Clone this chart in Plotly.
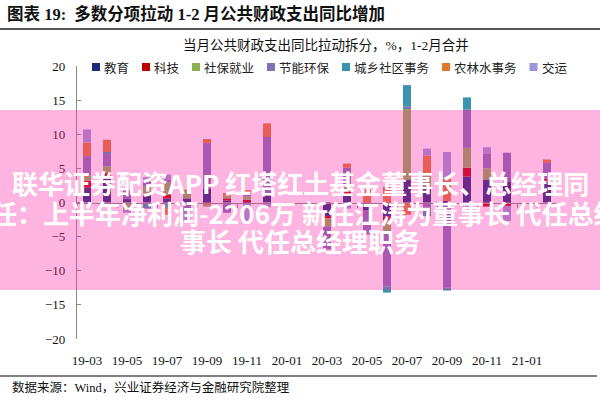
import plotly.graph_objects as go

months = ["19-03", "19-04", "19-05", "19-06", "19-07", "19-08", "19-09", "19-10",
          "19-11", "19-12", "20-01", "20-02", "20-03", "20-04", "20-05", "20-06",
          "20-07", "20-08", "20-09", "20-10", "20-11", "20-12", "21-01", "21-02"]
tick_labels = months[::2]
N = None

edu = [2.2, 3.8, 0.5, 1.0, 0.6, 0.6, 2.0, 0.3, 0.2, 1.0, N, N, -2.1, 1.2, -1.1, -2.0, 3.3, 2.1, 0.2, 3.8, 3.3, 3.0, N, 3.2]
tech = [1.0, 0.6, 0.0, 0.2, 0.5, 0.0, -0.3, 0.3, 0.2, 0.2, N, N, -0.2, 0.4, 0.0, -0.6, 0.0, 0.3, 0.0, 1.3, -0.6, -0.5, N, 0.3]
social = [0.8, 0.9, -1.1, 1.2, 1.8, 1.3, -0.3, 0.4, 0.5, 0.0, N, N, -1.2, 1.0, 0.0, -1.6, 10.4, 1.8, 0.0, 2.9, 1.7, 0.0, N, 0.0]
energy = [2.8, 1.8, 1.3, 0.9, 0.5, -1.2, 6.7, -1.5, 0.5, 8.4, N, N, -3.4, 2.5, -3.6, -8.1, 0.4, -1.2, -12.5, 5.6, 2.2, 4.3, N, 2.3]
urban = [0.0, 0.3, 0.0, -0.9, -0.8, 0.0, 0.0, 0.0, 0.0, 0.0, N, N, 0.0, 0.0, 0.0, -0.9, 3.1, -0.8, -0.4, 1.8, 0.0, 0.0, N, 0.0]
agri = [2.0, 1.8, 0.0, 0.0, -1.0, 0.0, 0.6, 0.4, 0.4, 2.0, N, N, 0.0, 0.6, 1.9, 2.3, -1.8, 2.7, 3.3, 0.0, 0.0, 0.0, N, 0.5]
transport = [1.9, 0.0, -0.4, 0.4, 0.7, -1.6, 0.0, 0.0, -2.8, -0.7, N, N, 0.0, -0.9, 0.0, 0.0, 0.0, 1.0, 3.9, -0.6, 0.9, -2.2, N, 0.0]

names = ["教育", "科技", "社保就业", "节能环保", "城乡社区事务", "农林水事务", "交运"]
series = [edu, tech, social, energy, urban, agri, transport]
colors = ["#1F2A7C", "#C00000", "#8CB050", "#8070B8", "#3A93AE", "#E2782E", "#9898D8"]

W, H = 600, 400
L, R, T, B = 77, 43, 66, 61
PW, PH = W - L - R, H - T - B


def px(x):
    return (x - L) / PW


def py(y):
    return (H - B - y) / PH


fig = go.Figure()
for name, vals, col in zip(names, series, colors):
    fig.add_trace(go.Bar(x=months, y=vals, name=name, marker_color=col,
                         marker_line_width=0, showlegend=False))
fig.add_trace(go.Scatter(x=months, y=[None] * len(months), xaxis="x2",
                         showlegend=False, hoverinfo="skip"))

serif = "Liberation Serif, Noto Sans CJK SC"
cjk = "Noto Sans CJK SC"

shapes = []
annotations = []

# custom legend
cx = 92
for name, col in zip(names, colors):
    shapes.append(dict(type="rect", xref="paper", yref="paper",
                       x0=px(cx), x1=px(cx + 8), y0=py(71), y1=py(63),
                       fillcolor=col, line_width=0))
    annotations.append(dict(text=name, xref="paper", yref="paper",
                            x=px(cx + 10), y=py(67), xanchor="left", yanchor="middle",
                            showarrow=False, font=dict(family=cjk, size=12.5, color="#222")))
    cx += 10 + len(name) * 12.5 + 15

# header / footer
annotations.append(dict(text="<b>图表 19:  多数分项拉动 1-2 月公共财政支出同比增加</b>",
                        xref="paper", yref="paper", x=px(5), y=py(14),
                        xanchor="left", yanchor="middle", showarrow=False,
                        font=dict(family=serif, size=16.5, color="#111")))
annotations.append(dict(text="当月公共财政支出同比拉动拆分，%，1-2月合并",
                        xref="paper", yref="paper", x=px(326), y=py(45),
                        xanchor="center", yanchor="middle", showarrow=False,
                        font=dict(family=serif, size=13.5, color="#111")))
annotations.append(dict(text="数据来源：Wind，兴业证券经济与金融研究院整理",
                        xref="paper", yref="paper", x=px(10), y=py(387),
                        xanchor="left", yanchor="middle", showarrow=False,
                        font=dict(family=serif, size=12.5, color="#111")))
shapes.append(dict(type="line", xref="paper", yref="paper", x0=px(0), x1=px(600),
                   y0=py(29), y1=py(29), line=dict(color="#555", width=2)))
shapes.append(dict(type="line", xref="paper", yref="paper", x0=px(0), x1=px(597),
                   y0=py(376), y1=py(376), line=dict(color="#808080", width=2)))

# pink banner overlay
shapes.append(dict(type="rect", xref="paper", yref="paper", layer="above",
                   x0=px(-2), x1=px(602), y0=py(290), y1=py(110),
                   fillcolor="rgba(250,40,165,0.35)", line_width=0))
banner = [("联华证券配资APP 红塔红土基金董事长、总经理同", 300, 182, "center"),
          ("任：上半年净利润-2206万 新任江涛为董事长 代任总经理", -11, 212, "left"),
          ("事长 代任总经理职务", 300, 241, "center")]
for txt, bx, by, anc in banner:
    annotations.append(dict(text="<b>" + txt + "</b>", xref="paper", yref="paper",
                            x=px(bx), y=py(by), xanchor=anc, yanchor="middle",
                            showarrow=False,
                            font=dict(family=cjk, size=26, color="white")))

fig.update_layout(
    width=W, height=H, margin=dict(l=L, r=R, t=T, b=B),
    paper_bgcolor="white", plot_bgcolor="white",
    barmode="relative", bargap=0.6,
    shapes=shapes, annotations=annotations,
    xaxis=dict(type="category", categoryorder="array", categoryarray=months,
               range=[-0.5, len(months) - 0.5], tickvals=tick_labels, ticktext=tick_labels,
               showline=False, ticks="", showgrid=False, zeroline=False,
               ticklabelstandoff=12,
               tickfont=dict(family="Liberation Serif", size=13, color="#111")),
    xaxis2=dict(type="category", matches="x", overlaying="x", anchor="free", position=0.5,
                showline=True, linecolor="#8a8a8a", linewidth=1.3,
                ticks="outside", ticklen=4, tickcolor="#8a8a8a", tickwidth=1,
                tickson="boundaries", tickvals=tick_labels,
                showticklabels=False, showgrid=False, zeroline=False),
    yaxis=dict(range=[-20, 20], dtick=5, tick0=0, showline=True, linecolor="#8a8a8a",
               linewidth=1.3, ticks="inside", ticklen=4, tickcolor="#8a8a8a",
               showgrid=False, zeroline=False, ticklabelstandoff=8,
               tickfont=dict(family="Liberation Serif", size=13, color="#111")),
)

fig.write_html("out.html", config={"displayModeBar": False},
               post_script="document.body.style.margin='0';")
